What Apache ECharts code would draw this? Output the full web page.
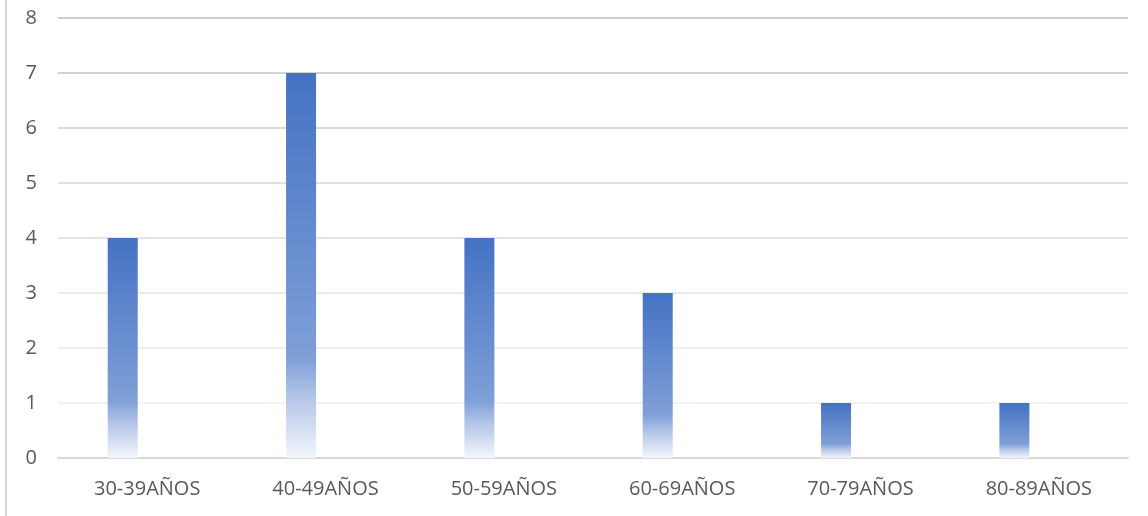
<!DOCTYPE html>
<html>
<head>
<meta charset="utf-8">
<script src="https://cdn.jsdelivr.net/npm/echarts@6/dist/echarts.min.js"></script>
<style>
  html, body { margin: 0; padding: 0; background: #fff; }
  #chart { width: 1148px; height: 516px; }
</style>
</head>
<body>
<div id="chart"></div>
<script>
// Age groups and counts
const categories = ['30-39AÑOS', '40-49AÑOS', '50-59AÑOS', '60-69AÑOS', '70-79AÑOS', '80-89AÑOS'];
const counts = [4, 7, 4, 3, 1, 1];
// Placeholder second series in the cluster (no values)
const emptySeries = [];
const yTicks = { min: 0, max: 8, interval: 1 };

const chart = echarts.init(document.getElementById('chart'));

const barFill = new echarts.graphic.LinearGradient(0, 0, 0, 1, [
  { offset: 0, color: '#4472C4' },
  { offset: 0.74, color: '#7f9fd7' },
  { offset: 0.84, color: '#b2c4e8' },
  { offset: 1, color: '#f3f6fc' }
]);

const fontFamily = '"Open Sans", "Noto Sans", sans-serif';

chart.setOption({
  animation: false,
  backgroundColor: '#ffffff',
  grid: { left: 58, right: 20, top: 18, bottom: 58 },
  graphic: [{
    type: 'rect',
    shape: { x: 5, y: 0, width: 2, height: 516 },
    style: { fill: '#d9d9d9' },
    silent: true
  }],
  xAxis: {
    type: 'category',
    data: categories,
    axisLine: { show: true, lineStyle: { color: '#d9d9d9', width: 2 } },
    axisTick: { show: false },
    axisLabel: { color: '#595959', fontSize: 20, fontFamily: fontFamily, margin: 21 }
  },
  yAxis: {
    type: 'value',
    min: yTicks.min,
    max: yTicks.max,
    interval: yTicks.interval,
    axisLine: { show: false },
    axisTick: { show: false },
    axisLabel: { color: '#595959', fontSize: 20, fontFamily: fontFamily, margin: 21 },
    splitLine: {
      lineStyle: {
        width: 2,
        color: ['#d9d9d9', '#f2f2f2', '#efefef', '#ebebeb', '#e6e6e6', '#e0e0e0', '#dadada', '#d3d3d3', '#cdcdcd']
      }
    }
  },
  series: [
    {
      name: 'Cantidad',
      type: 'bar',
      data: counts,
      barWidth: 30,
      barGap: '63%',
      itemStyle: { color: barFill }
    },
    {
      name: 'Serie 2',
      type: 'bar',
      data: emptySeries,
      barWidth: 30
    }
  ]
});
</script>
</body>
</html>
